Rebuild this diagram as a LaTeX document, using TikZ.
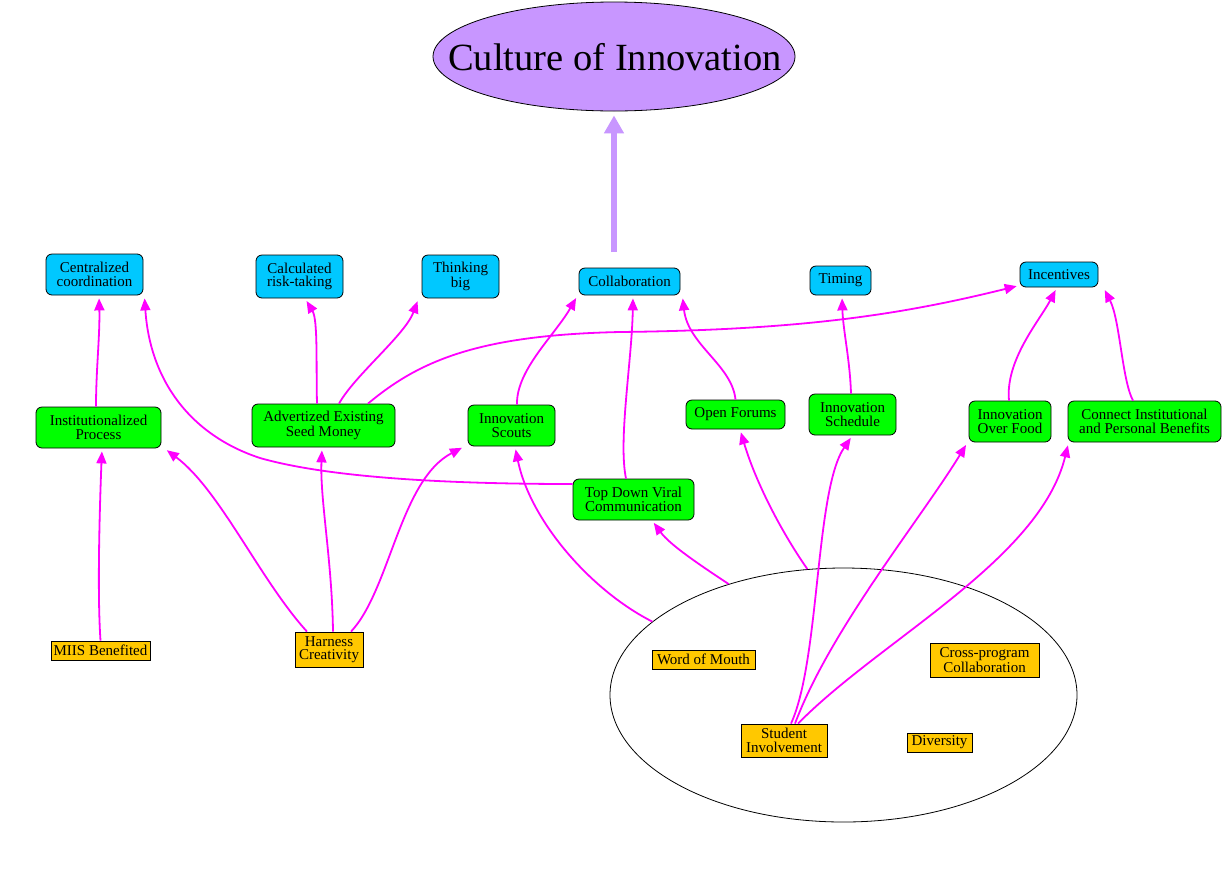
\documentclass[tikz,border=0pt]{standalone}
\usepackage{fontspec}
\setmainfont{Liberation Serif}
\usetikzlibrary{shapes.geometric,arrows.meta}
\definecolor{cbl}{RGB}{0,200,255}
\definecolor{cgr}{RGB}{0,255,0}
\definecolor{cor}{RGB}{255,200,0}
\definecolor{lav}{RGB}{200,150,255}
\definecolor{mag}{RGB}{255,0,255}
\begin{document}
\begin{tikzpicture}[x=1pt,y=1pt,
  box/.style={draw=black, line width=0.8pt, align=center, inner sep=2pt, font=\fontsize{15}{13.5}\selectfont},
  bluebox/.style={box, fill=cbl, rounded corners=6pt},
  greenbox/.style={box, fill=cgr, rounded corners=6pt},
  orangebox/.style={box, fill=cor},
  arr/.style={draw=mag, line width=1.8pt, -{Triangle[length=12pt,width=10pt]}, shorten >=3pt},
]
\fill[white] (0,0) rectangle (1225,-884);
\useasboundingbox (0,0) rectangle (1225,-884);

% title
\node[ellipse, draw=black, line width=0.8pt, fill=lav, minimum width=362pt, minimum height=109pt, inner sep=0pt] (coi) at (614,-56.5) {};
\node[font=\fontsize{38.5}{40}\selectfont, inner sep=0pt] (coit) at (615,-57) {Culture of Innovation};
\coordinate (lstart) at (614,-252);
\draw[lav, line width=6pt, -{Triangle[length=18pt,width=19pt]}, shorten >=4pt] (lstart) -- (coi.south);

% blue
\node[bluebox, minimum width=97pt, minimum height=41pt] (cc) at (94.5,-274.5) {Centralized\\coordination};
\node[bluebox, minimum width=87pt, minimum height=43pt] (crt) at (299.5,-276.5) {Calculated\\risk-taking};
\node[bluebox, minimum width=77pt, minimum height=43pt] (tb) at (460.5,-276.5) {Thinking\\big};
\node[bluebox, minimum width=101pt, minimum height=27pt] (col) at (629.5,-281.5) {Collaboration};
\node[bluebox, minimum width=61pt, minimum height=29pt] (tim) at (840.5,-280.5) {Timing};
\node[bluebox, minimum width=78pt, minimum height=25pt] (inc) at (1059,-274.5) {Incentives};

% green
\node[greenbox, minimum width=125pt, minimum height=41pt] (ip) at (98.5,-427.5) {Institutionalized\\Process};
\node[greenbox, minimum width=143pt, minimum height=43pt] (asm) at (323.5,-425.5) {Advertized Existing\\Seed Money};
\node[greenbox, minimum width=87pt, minimum height=41pt] (is) at (511.5,-425.5) {Innovation\\Scouts};
\node[greenbox, minimum width=99pt, minimum height=29pt] (of) at (735.5,-414.5) {Open Forums};
\node[greenbox, minimum width=87pt, minimum height=41pt] (isch) at (852.5,-414.5) {Innovation\\Schedule};
\node[greenbox, minimum width=82pt, minimum height=41pt] (iof) at (1010,-421.5) {Innovation\\Over Food};
\node[greenbox, minimum width=153pt, minimum height=41pt] (cipb) at (1144.5,-421.5) {Connect Institutional\\and Personal Benefits};
\node[greenbox, minimum width=121pt, minimum height=41pt] (tdv) at (633.5,-499.5) {Top Down Viral\\Communication};

% group ellipse
\node[ellipse, draw=black, line width=0.8pt, minimum width=467pt, minimum height=254pt, inner sep=0pt] (grp) at (843.5,-695) {};

% orange
\node[orangebox, minimum width=99pt, minimum height=19pt] (miis) at (100.5,-650.5) {MIIS Benefited};
\node[orangebox, minimum width=68pt, minimum height=35pt] (hc) at (329,-649.5) {Harness\\Creativity};
\node[orangebox, minimum width=103pt, minimum height=19pt] (wom) at (703.5,-659.5) {Word of Mouth};
\node[orangebox, minimum width=109pt, minimum height=34pt] (cpc) at (984.5,-660) {Cross-program\\Collaboration};
\node[orangebox, minimum width=86pt, minimum height=33pt] (si) at (784,-740.5) {Student\\Involvement};
\node[orangebox, minimum width=65pt, minimum height=19pt] (div) at (939.5,-742.5) {Diversity};

% connectors
\draw[arr] ([xshift=-2.5pt]ip.north) .. controls (96,-370) and (100,-335) .. ([xshift=4.5pt]cc.south);
\draw[arr] ([yshift=15.5pt]tdv.west) .. controls (450,-484) and (330,-478) .. (260,-458) .. controls (190,-435) and (150,-380) .. ([xshift=1pt]cc.south east);
\draw[arr] ([xshift=-6.5pt]asm.north) .. controls (316,-365) and (318,-320) .. ([xshift=5.5pt]crt.south);
\draw[arr] ([xshift=15.5pt]asm.north) .. controls (355,-375) and (405,-335) .. ([xshift=-3pt]tb.south west);
\draw[arr] ([xshift=44.5pt]asm.north) .. controls (420,-360) and (480,-335) .. (620,-332) .. controls (800,-330) and (900,-315) .. ([yshift=2pt]inc.south west);
\draw[arr] ([xshift=5.5pt]is.north) .. controls (516,-370) and (555,-335) .. ([xshift=-1pt]col.south west);
\draw[arr] ([xshift=-7.5pt]tdv.north) .. controls (618,-440) and (632,-360) .. ([xshift=3.5pt]col.south);
\draw[arr] (of.north) .. controls (732,-365) and (688,-345) .. ([xshift=2pt]col.south east);
\draw[arr] ([xshift=-1.5pt]isch.north) .. controls (850,-360) and (843,-330) .. ([xshift=1.5pt]tim.south);
\draw[arr] ([xshift=-1pt]iof.north) .. controls (1005,-360) and (1040,-320) .. ([xshift=-2pt]inc.south);
\draw[arr] ([xshift=-11.5pt]cipb.north) .. controls (1122,-380) and (1120,-320) .. ([xshift=5pt]inc.south east);
\draw[arr] (miis.north) .. controls (97,-590) and (100,-500) .. ([xshift=3.5pt]ip.south);
\draw[arr] ([xshift=-22pt]hc.north) .. controls (260,-580) and (220,-490) .. ([xshift=3pt]ip.south east);
\draw[arr] ([xshift=4pt]hc.north) .. controls (332,-560) and (320,-500) .. ([xshift=-1.5pt]asm.south);
\draw[arr] ([xshift=22pt]hc.north) .. controls (390,-590) and (400,-480) .. ([xshift=-3pt]is.south west);
\draw[arr] (grp.159.5) .. controls (590,-590) and (530,-520) .. ([xshift=3.5pt]is.south);
\draw[arr] (grp.136.6) .. controls (700,-565) and (670,-545) .. ([xshift=18.5pt]tdv.south);
\draw[arr] (grp.106) .. controls (780,-530) and (755,-480) .. ([xshift=4.5pt]of.south);
\draw[arr] ([xshift=7pt]si.north) .. controls (820,-660) and (815,-490) .. (isch.south);
\draw[arr] ([xshift=11pt]si.north) .. controls (830,-630) and (920,-520) .. ([xshift=-1pt]iof.south west);
\draw[arr] ([xshift=14pt]si.north) .. controls (880,-640) and (1040,-560) .. ([xshift=1pt]cipb.south west);
\end{tikzpicture}
\end{document}
